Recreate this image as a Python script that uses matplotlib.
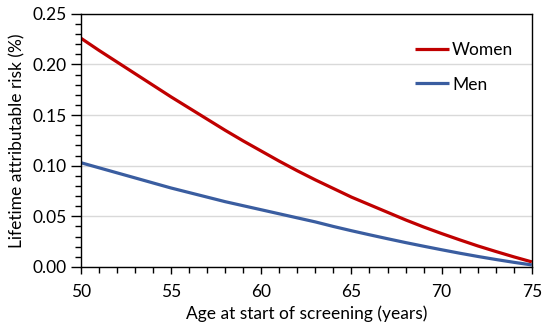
import matplotlib
matplotlib.use("Agg")
import matplotlib.pyplot as plt
from matplotlib.ticker import MultipleLocator

ages = list(range(50, 76))
women = [0.226, 0.214, 0.2025, 0.191, 0.1795, 0.168, 0.157, 0.146, 0.135, 0.1245,
         0.1145, 0.1045, 0.095, 0.086, 0.0775, 0.069, 0.0615, 0.054, 0.0465, 0.0395,
         0.033, 0.0268, 0.0208, 0.0153, 0.0100, 0.005]
men = [0.103, 0.098, 0.093, 0.088, 0.083, 0.078, 0.0735, 0.069, 0.0645, 0.0605,
       0.0565, 0.0525, 0.0485, 0.0445, 0.040, 0.0358, 0.0318, 0.0279, 0.0241, 0.0205,
       0.017, 0.0136, 0.0104, 0.0074, 0.0046, 0.002]
xticks = [50, 55, 60, 65, 70, 75]
yticks = [0.00, 0.05, 0.10, 0.15, 0.20, 0.25]

plt.rcParams['font.family'] = ['Lato', 'DejaVu Sans']

fig = plt.figure(figsize=(5.5, 3.3), dpi=100)
ax = fig.add_axes([0.147, 0.191, 0.82, 0.767])

ax.plot(ages, women, color='#C00000', lw=2.3, label='Women', solid_capstyle='butt')
ax.plot(ages, men, color='#3A5DA0', lw=2.3, label='Men', solid_capstyle='butt')

ax.set_xlim(50, 75)
ax.set_ylim(0, 0.25)
ax.set_xticks(xticks)
ax.set_yticks(yticks)
ax.set_yticklabels([f"{v:.2f}" for v in yticks])
ax.xaxis.set_minor_locator(MultipleLocator(1))
ax.yaxis.set_minor_locator(MultipleLocator(0.01))
ax.tick_params(axis='both', which='major', labelsize=12.5, direction='out', color='black', width=1)
ax.tick_params(axis='y', which='major', length=7, pad=3)
ax.tick_params(axis='y', which='minor', length=4, width=1)
ax.tick_params(axis='x', which='major', length=5, pad=7)
ax.tick_params(axis='x', which='minor', length=4, width=1)

ax.grid(axis='y', which='major', color='#D9D9D9', lw=1)
ax.set_axisbelow(True)
for s in ax.spines.values():
    s.set_color('black')
    s.set_linewidth(1)

ax.set_xlabel('Age at start of screening (years)', fontsize=12.5, labelpad=4)
ax.set_ylabel('Lifetime attributable risk (%)', fontsize=12.5, labelpad=5)

ax.legend(loc='upper left', bbox_to_anchor=(0.725, 0.915), frameon=False, fontsize=12.5,
          handlelength=2.0, handletextpad=0.15, labelspacing=1.05, borderaxespad=0)

fig.savefig('out.png', dpi=100)
